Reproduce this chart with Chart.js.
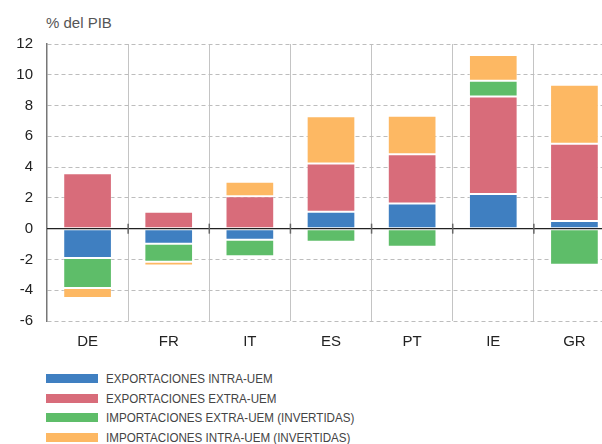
<!DOCTYPE html>
<html>
<head>
<meta charset="utf-8">
<script src="https://cdn.jsdelivr.net/npm/chart.js@4"></script>
<style>
  body { margin: 0; background: #fff; overflow: hidden; width: 602px; height: 444px; position: relative; }
  #wrap { position: absolute; left: 0; top: 0; width: 616px; height: 365px; }
  #unit { position: absolute; left: 46px; top: 14px; font: 15px "Liberation Sans", Arial, sans-serif; color: #555; }
  #legend { position: absolute; left: 46px; top: 369px; }
  .row { display: flex; align-items: center; height: 19.5px; white-space: nowrap; }
  .sw { width: 52px; height: 9px; margin-right: 8px; flex: none; }
  .lbl { font: 13.5px "Liberation Sans", Arial, sans-serif; color: #444; display: inline-block; transform: scaleX(0.86); transform-origin: left center; }
</style>
</head>
<body>
<div id="unit">% del PIB</div>
<div id="wrap"><canvas id="chart"></canvas></div>
<div id="legend"></div>
<script>
const countries = ['DE', 'FR', 'IT', 'ES', 'PT', 'IE', 'GR'];
const exportIntra = [-1.9, -0.98, -0.72, 1.1, 1.63, 2.26, 0.5];
const exportExtra = [3.6, 1.1, 2.1, 3.13, 3.2, 6.33, 5.02];
const importExtra = [-1.95, -1.17, -1.08, -0.85, -1.17, 1.02, -2.35];
const importIntra = [-0.65, -0.25, 0.95, 3.07, 2.5, 1.67, 3.83];
const yTicks = [-6, -4, -2, 0, 2, 4, 6, 8, 10, 12];

const series = [
  { label: 'EXPORTACIONES INTRA-UEM', data: exportIntra, color: '#3f7fc1' },
  { label: 'EXPORTACIONES EXTRA-UEM', data: exportExtra, color: '#d86c7a' },
  { label: 'IMPORTACIONES EXTRA-UEM (INVERTIDAS)', data: importExtra, color: '#5ebd69' },
  { label: 'IMPORTACIONES INTRA-UEM (INVERTIDAS)', data: importIntra, color: '#fdb863' },
];

// zero line and small marks between the countries
const zeroLine = {
  id: 'zeroLine',
  afterDatasetsDraw(chart) {
    const { ctx, chartArea, scales: { x, y } } = chart;
    const y0 = y.getPixelForValue(0);
    ctx.save();
    ctx.strokeStyle = '#222';
    ctx.lineWidth = 1.3;
    ctx.beginPath();
    ctx.moveTo(chartArea.left, y0);
    ctx.lineTo(chartArea.right, y0);
    ctx.stroke();
    ctx.strokeStyle = '#666';
    ctx.lineWidth = 1.5;
    for (let i = 1; i < countries.length; i++) {
      const bx = (x.getPixelForValue(i - 1) + x.getPixelForValue(i)) / 2;
      ctx.beginPath();
      ctx.moveTo(bx, y0 - 5);
      ctx.lineTo(bx, y0 + 5);
      ctx.stroke();
    }
    ctx.restore();
  }
};

const chart = new Chart(document.getElementById('chart'), {
  type: 'bar',
  data: {
    labels: countries,
    datasets: series.map(s => ({
      label: s.label,
      data: s.data,
      backgroundColor: s.color,
      borderColor: 'rgba(255,255,255,0.3)',
      borderWidth: 1,
      borderSkipped: false,
      barPercentage: 0.6,
      categoryPercentage: 1,
    })),
  },
  options: {
    responsive: true,
    maintainAspectRatio: false,
    animation: false,
    layout: { padding: { top: 44, bottom: 2, left: 0, right: 1 } },
    plugins: { legend: { display: false }, tooltip: { enabled: false } },
    scales: {
      x: {
        stacked: true,
        grid: { color: '#c4c4c4', lineWidth: 1, drawTicks: false, offset: true },
        border: { display: false },
        ticks: { color: '#222', font: { family: 'Liberation Sans', size: 15 }, padding: 12 },
      },
      y: {
        stacked: true,
        min: -6,
        max: 12,
        afterBuildTicks: s => { s.ticks = yTicks.map(v => ({ value: v })); },
        afterFit: s => { s.width = 47; },
        grid: { color: '#bdbdbd', lineWidth: 1, drawTicks: false },
        border: { display: true, color: '#777', width: 1.5, dash: [4, 3] },
        ticks: { color: '#222', font: { family: 'Liberation Sans', size: 15 }, padding: 14 },
      },
    },
  },
  plugins: [zeroLine],
});

// legend, one row per series
const legend = document.getElementById('legend');
legend.innerHTML = series.map(s => `
  <div class="row"><span class="sw" style="background:${s.color}"></span><span class="lbl">${s.label}</span></div>`).join('');
</script>
</body>
</html>
